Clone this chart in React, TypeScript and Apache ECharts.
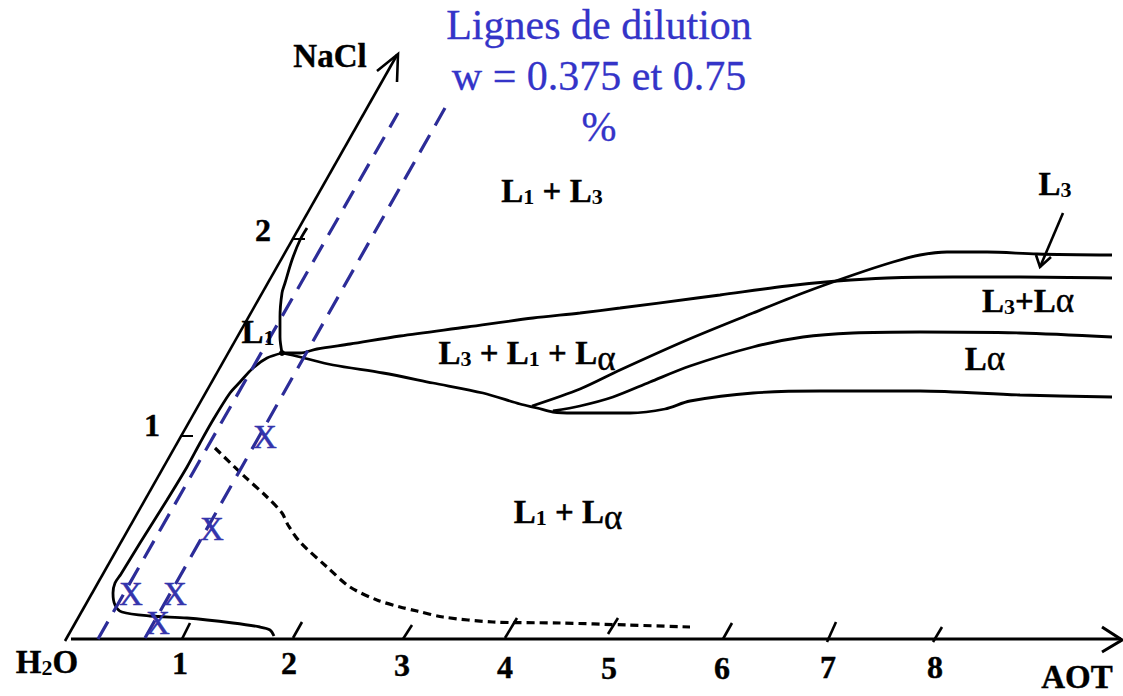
import React, { useEffect, useRef } from "react";
import * as echarts from "echarts";

const FONT = '"Liberation Serif", "Times New Roman", serif';
const BLUE_TEXT = "#3434c8";
const BLUE_DASH = "#2c2c98";
const BLUE_X = "#3434ac";

// Diagram plane coordinates (x to the right, y downward)
const naclAxis = [[65, 641], [397, 55]];
const naclArrow = [[377, 71], [398, 54], [397, 82]];
const aotAxis = [[71, 639], [1121, 639]];
const aotArrow = [[1102, 627], [1122, 640], [1102, 652]];

const aotTicks = [
  [[182, 639], [190, 623]],
  [[293, 638], [302, 622]],
  [[403, 639], [412, 625]],
  [[505, 638], [517, 618]],
  [[608, 634], [618, 618]],
  [[723, 639], [732, 623]],
  [[827, 642], [836, 622]],
  [[933, 642], [942, 627]],
];
const naclTicks = [
  [[180, 436], [193, 436]],
  [[293, 239], [305, 239]],
];

const aotTickLabels = ["1", "2", "3", "4", "5", "6", "7", "8"];
const aotTickLabelPos = [[180, 663], [289, 663], [402, 665], [505, 667], [609, 668], [722, 668], [828, 667], [935, 667]];
const naclTickLabels = ["1", "2"];
const naclTickLabelPos = [[152, 425], [263, 230]];

// dilution lines w = 0.375 and 0.75
const dilution1 = [[98, 639], [398, 113]];
const dilution2 = [[145, 638], [445, 108]];
const samplePoints = [[265, 437], [212, 529], [131, 594], [175, 594], [158, 623]];

// phase boundaries
const curveL1 = [
  [274, 636], [270, 630], [260, 627], [233, 623], [187, 618], [150, 616], [122, 612],
  [115, 605], [113, 593], [115, 583], [121, 574], [140, 543], [167, 500], [187, 467],
  [200, 443], [213, 420], [230, 393], [240, 382], [253, 368], [267, 358], [282, 353],
];
const curveL1Upper = [
  [282, 353], [280, 337], [280, 317], [282, 293], [285, 283], [292, 260], [300, 240], [307, 228],
];
const curveUpper = [
  [282, 353], [290, 353], [300, 353], [317, 349], [350, 344], [400, 336], [467, 327],
  [533, 318], [580, 313], [620, 308], [697, 298], [720, 295], [787, 286], [837, 281],
  [887, 278], [953, 277], [1020, 277], [1112, 278],
];
const curveL3 = [
  [532, 406], [580, 389], [620, 370], [687, 340], [753, 313], [803, 293], [853, 275],
  [893, 262], [920, 255], [947, 252], [987, 252], [1037, 254], [1112, 255],
];
const curveLaUpper = [
  [553, 411], [580, 406], [613, 397], [650, 382], [690, 366], [753, 347], [803, 337],
  [853, 333], [920, 332], [1020, 333], [1112, 337],
];
const curveLower = [
  [282, 353], [300, 357], [333, 365], [383, 373], [433, 383], [483, 393], [520, 404],
  [537, 408], [553, 412], [573, 413], [630, 413], [665, 409], [690, 401], [753, 393],
  [820, 391], [920, 391], [1020, 395], [1112, 397],
];
const curveDashed = [
  [215, 448], [243, 475], [267, 497], [282, 513], [288, 525], [300, 542], [327, 567],
  [350, 587], [377, 600], [400, 607], [417, 611], [443, 617], [493, 622], [560, 623],
  [627, 625], [690, 627],
];
const junction = [[282, 353]];
const l3Arrow = [[1063, 213], [1040, 267]];
const l3ArrowHead = [[1036, 255], [1040, 267], [1051, 257]];

// region labels
const regionLabels = [
  "{b|L}{s|1}{b| + L}{s|3}",
  "{b|L}{s|3}{b| + L}{s|1}{b| + L}{a|α}",
  "{b|L}{s|1}{b| + L}{a|α}",
  "{b|L}{an|α}",
  "{b|L}{s|3}{b|+L}{an|α}",
  "{b|L}{s|3}",
  "{b|L}{s|1}",
  "{b|NaCl}",
  "{b|H}{s|2}{b|O}",
  "{b|AOT}",
];
const regionLabelPos = [
  [552, 197], [527, 358], [568, 517], [985, 364], [1028, 306], [1055, 190],
  [258, 338], [330, 62], [47, 668], [1077, 683],
];

const titleText = "Lignes de dilution\nw = 0.375 et 0.75\n%";
const titlePos = [[599, 76]];

const stroke = { textBorderColor: "#000", textBorderWidth: 0.4 };
const rich = {
  b: { fontFamily: FONT, fontWeight: "bold", fontSize: 33, lineHeight: 33, padding: [0, 0, 6, 0], verticalAlign: "bottom", color: "#000", ...stroke },
  s: { fontFamily: FONT, fontWeight: "bold", fontSize: 22, lineHeight: 22, padding: [0, 0, 6, 0], verticalAlign: "bottom", color: "#000" },
  a: { fontFamily: FONT, fontWeight: "normal", fontSize: 35, lineHeight: 35, verticalAlign: "bottom", color: "#000", ...stroke },
  an: { fontFamily: FONT, fontWeight: "normal", fontSize: 35, lineHeight: 35, padding: [0, 0, 6, 0], verticalAlign: "bottom", color: "#000", ...stroke },
};

function curve(data: number[][], extra: any = {}) {
  return {
    type: "line",
    data,
    showSymbol: false,
    smooth: 0.3,
    silent: true,
    lineStyle: { color: "#000", width: 2.8, ...(extra.lineStyle || {}) },
    z: extra.z || 3,
  };
}

function segs(list: number[][][], color: string, width: number, extra: any = {}) {
  return {
    type: "lines",
    coordinateSystem: "cartesian2d",
    polyline: true,
    silent: true,
    data: list.map((c) => ({ coords: c })),
    lineStyle: { color, width, opacity: 1, curveness: 0, ...extra },
    z: 4,
  };
}

function textSeries(pos: number[][], texts: string[], label: any) {
  return {
    type: "scatter",
    silent: true,
    symbolSize: 1,
    itemStyle: { color: "rgba(0,0,0,0)", opacity: 1 },
    data: pos.map((p, i) => ({ value: p, label: { formatter: texts[i] } })),
    label: { show: true, position: "inside", opacity: 1, ...label },
    z: 6,
  };
}

export default function App() {
  const ref = useRef<HTMLDivElement>(null);
  useEffect(() => {
    if (!ref.current) return;
    const chart = echarts.init(ref.current, null, { renderer: "svg" });
    chart.setOption({
      animation: false,
      backgroundColor: "#ffffff",
      grid: { left: 0, right: 0, top: 0, bottom: 0, containLabel: false },
      xAxis: { type: "value", min: 0, max: 1123, show: false },
      yAxis: { type: "value", min: 0, max: 696, inverse: true, show: false },
      series: [
        segs([naclAxis, naclArrow], "#000", 2.6),
        segs([aotAxis, aotArrow], "#000", 3),
        segs(aotTicks, "#000", 2.6),
        segs(naclTicks, "#000", 2),
        segs([l3Arrow, l3ArrowHead], "#000", 2.6),
        segs([dilution1, dilution2], BLUE_DASH, 3.2, { type: [20, 11] }),
        curve(curveL1),
        curve(curveL1Upper),
        curve(curveUpper),
        curve(curveL3),
        curve(curveLaUpper),
        curve(curveLower),
        curve(curveDashed, { lineStyle: { type: [8, 5], width: 3.2 } }),
        {
          type: "scatter",
          silent: true,
          data: junction,
          symbol: "circle",
          symbolSize: 6,
          itemStyle: { color: "#000", opacity: 1 },
          z: 5,
        },
        textSeries(samplePoints, samplePoints.map(() => "X"), {
          fontFamily: FONT, fontSize: 33, color: BLUE_X, textBorderColor: BLUE_X, textBorderWidth: 0.5,
        }),
        textSeries(aotTickLabelPos, aotTickLabels, {
          fontFamily: FONT, fontWeight: "bold", fontSize: 32, color: "#000", ...stroke,
        }),
        textSeries(naclTickLabelPos, naclTickLabels, {
          fontFamily: FONT, fontWeight: "bold", fontSize: 32, color: "#000", ...stroke,
        }),
        textSeries(regionLabelPos, regionLabels, { rich }),
        textSeries(titlePos, [titleText], {
          fontFamily: FONT, fontSize: 42, lineHeight: 51, color: BLUE_TEXT, align: "center",
          textBorderColor: BLUE_TEXT, textBorderWidth: 0.3,
        }),
      ],
    });
    return () => chart.dispose();
  }, []);
  return (
    <div
      ref={ref}
      style={{ position: "absolute", left: 0, top: 0, width: 1123, height: 696, background: "#fff" }}
    />
  );
}
